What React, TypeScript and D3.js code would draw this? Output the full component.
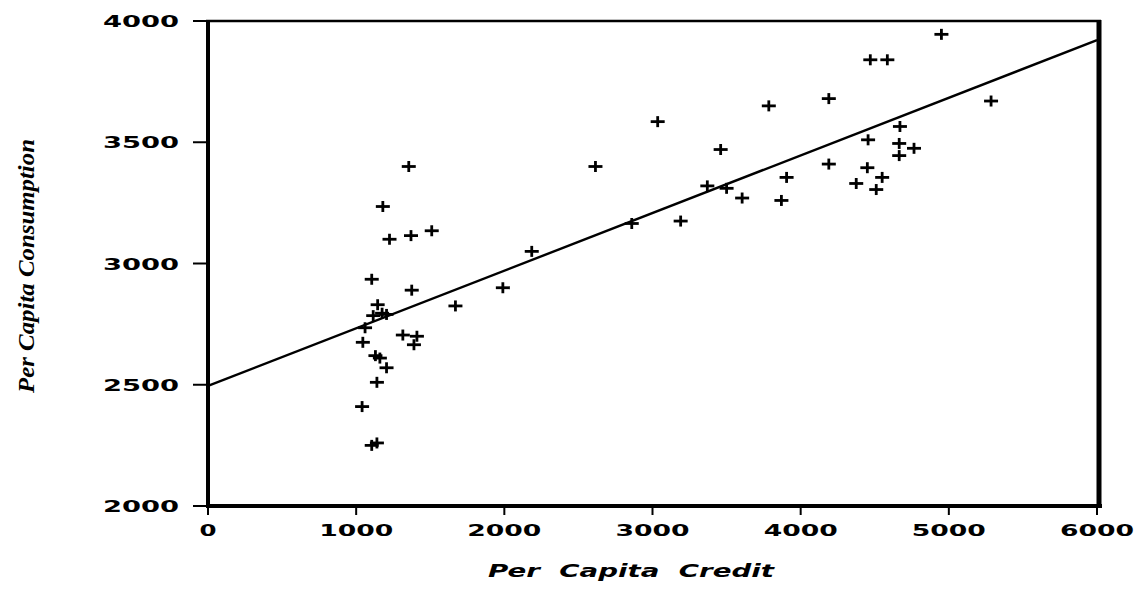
import React from "react";
import * as d3 from "d3";

const creditValues: number[] = [
  4950, 4470, 4585, 4190, 5285, 4670, 4455, 4665, 4765, 4665, 4190, 4450, 3905, 4550, 4375, 4510, 3870,
  3785, 3035, 3460, 2615, 3370, 3500, 3605, 2860, 3190, 2185, 1990,
  1355, 1180, 1225, 1370, 1510, 1105, 1375, 1145, 1670, 1115, 1175, 1205, 1060, 1045, 1315, 1410, 1390,
  1130, 1160, 1205, 1140, 1040, 1105, 1140,
];
const consumptionValues: number[] = [
  3945, 3840, 3840, 3680, 3670, 3565, 3510, 3495, 3475, 3445, 3410, 3395, 3355, 3355, 3330, 3305, 3260,
  3650, 3585, 3470, 3400, 3320, 3310, 3270, 3165, 3175, 3050, 2900,
  3400, 3235, 3100, 3115, 3135, 2935, 2890, 2830, 2825, 2785, 2795, 2790, 2735, 2675, 2705, 2700, 2665,
  2620, 2610, 2570, 2510, 2410, 2250, 2260,
];
const xTicks: number[] = [0, 1000, 2000, 3000, 4000, 5000, 6000];
const yTicks: number[] = [2000, 2500, 3000, 3500, 4000];
const fitIntercept = 2495;
const fitSlope = 0.2377;
const xTitle = "Per  Capita  Credit";
const yTitle = "Per Capita Consumption";

export default function App() {
  const W = 1147;
  const H = 589;
  const x = d3.scaleLinear().domain([0, 6000]).range([208, 1097]);
  const y = d3.scaleLinear().domain([2000, 4000]).range([506, 21]);
  const lineGen = d3
    .line<number>()
    .x((d) => x(d))
    .y((d) => y(fitIntercept + fitSlope * d));
  const labelFont = "'DejaVu Sans', sans-serif";
  return (
    <svg
      width={W}
      height={H}
      style={{ position: "absolute", left: 0, top: 0, background: "#fff" }}
    >
      <rect x={0} y={0} width={W} height={H} fill="#fff" />
      {/* regression line */}
      <path d={lineGen([0, 6000]) || ""} fill="none" stroke="#000" strokeWidth={2.4} />
      {/* points */}
      {creditValues.map((cv, i) => {
        const cx = x(cv);
        const cy = y(consumptionValues[i]);
        return (
          <g key={i} stroke="#000" strokeWidth={2.8}>
            <line x1={cx - 7} x2={cx + 7} y1={cy} y2={cy} />
            <line x1={cx} x2={cx} y1={cy - 5.5} y2={cy + 5.5} />
          </g>
        );
      })}
      {/* frame */}
      <line x1={206} x2={1101} y1={21} y2={21} stroke="#000" strokeWidth={2.5} />
      <line x1={208} x2={208} y1={20} y2={508} stroke="#000" strokeWidth={4} />
      <line x1={206} x2={1102} y1={506} y2={506} stroke="#000" strokeWidth={4} />
      <line x1={1099} x2={1099} y1={20} y2={508} stroke="#000" strokeWidth={5} />
      {/* y ticks */}
      {yTicks.map((t) => (
        <g key={"y" + t}>
          <line x1={193} x2={208} y1={y(t)} y2={y(t)} stroke="#000" strokeWidth={2} />
          <text
            x={103}
            y={y(t) + 6}
            fontFamily={labelFont}
            fontWeight="bold"
            fontSize={16}
            textLength={76}
            lengthAdjust="spacingAndGlyphs"
            fill="#000"
          >
            {String(t)}
          </text>
        </g>
      ))}
      {/* x ticks */}
      {xTicks.map((t) => {
        const s = String(t);
        const w = s.length === 1 ? 17 : 74;
        return (
          <g key={"x" + t}>
            <line x1={x(t)} x2={x(t)} y1={506} y2={515} stroke="#000" strokeWidth={2} />
            <text
              x={x(t) - w / 2}
              y={536}
              fontFamily={labelFont}
              fontWeight="bold"
              fontSize={16}
              textLength={w}
              lengthAdjust="spacingAndGlyphs"
              fill="#000"
            >
              {s}
            </text>
          </g>
        );
      })}
      {/* axis titles */}
      <text
        x={488}
        y={577}
        fontFamily={labelFont}
        fontWeight="bold"
        fontStyle="italic"
        fontSize={17}
        textLength={286}
        lengthAdjust="spacingAndGlyphs"
        fill="#000"
        style={{ whiteSpace: "pre" }}
      >
        {xTitle}
      </text>
      <text
        transform={`translate(34,${393}) rotate(-90)`}
        x={0}
        y={0}
        fontFamily="'Liberation Serif', serif"
        fontWeight="bold"
        fontStyle="italic"
        fontSize={23}
        textLength={254}
        lengthAdjust="spacingAndGlyphs"
        fill="#000"
      >
        {yTitle}
      </text>
    </svg>
  );
}
